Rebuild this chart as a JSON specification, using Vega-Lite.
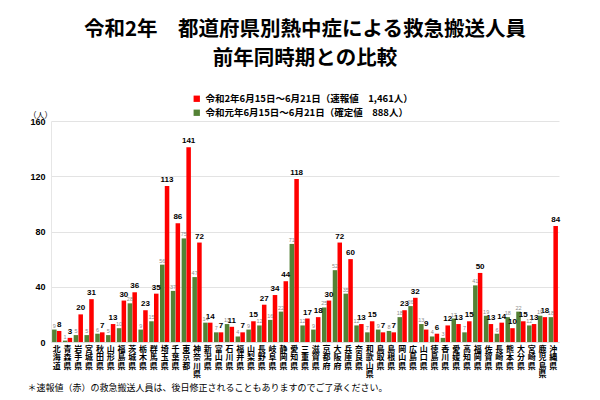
{
  "$schema": "https://vega.github.io/schema/vega-lite/v6.json",
  "width": 508,
  "height": 221,
  "autosize": {"type": "none"},
  "padding": {"left": 51, "top": 121, "right": 41, "bottom": 58},
  "background": "white",
  "title": {
    "text": ["令和2年　都道府県別熱中症による救急搬送人員", "前年同時期との比較"],
    "font": "Noto Sans CJK JP",
    "fontSize": 20.5,
    "fontWeight": "bold",
    "color": "#000000",
    "lineHeight": 29,
    "anchor": "middle",
    "offset": 20,
    "dy": -5
  },
  "config": {
    "view": {"stroke": null},
    "font": "Noto Sans CJK JP"
  },
  "data": {
    "values": [
      {"pref": "北海道", "r2": 8, "r1": 9},
      {"pref": "青森県", "r2": 3, "r1": 1},
      {"pref": "岩手県", "r2": 20, "r1": 5},
      {"pref": "宮城県", "r2": 31, "r1": 5},
      {"pref": "秋田県", "r2": 7, "r1": 6},
      {"pref": "山形県", "r2": 13, "r1": 5},
      {"pref": "福島県", "r2": 30, "r1": 10},
      {"pref": "茨城県", "r2": 36, "r1": 28},
      {"pref": "栃木県", "r2": 23, "r1": 9},
      {"pref": "群馬県", "r2": 35, "r1": 15},
      {"pref": "埼玉県", "r2": 113, "r1": 56},
      {"pref": "千葉県", "r2": 86, "r1": 37},
      {"pref": "東京都", "r2": 141, "r1": 75},
      {"pref": "神奈川県", "r2": 72, "r1": 47},
      {"pref": "新潟県", "r2": 14, "r1": 14},
      {"pref": "富山県", "r2": 7, "r1": 7},
      {"pref": "石川県", "r2": 11, "r1": 13},
      {"pref": "福井県", "r2": 7, "r1": 4},
      {"pref": "山梨県", "r2": 15, "r1": 9},
      {"pref": "長野県", "r2": 27, "r1": 12},
      {"pref": "岐阜県", "r2": 34, "r1": 16},
      {"pref": "静岡県", "r2": 44, "r1": 22},
      {"pref": "愛知県", "r2": 118, "r1": 71},
      {"pref": "三重県", "r2": 17, "r1": 12},
      {"pref": "滋賀県", "r2": 18, "r1": 9},
      {"pref": "京都府", "r2": 30, "r1": 25},
      {"pref": "大阪府", "r2": 72, "r1": 52},
      {"pref": "兵庫県", "r2": 60, "r1": 35},
      {"pref": "奈良県", "r2": 13, "r1": 12},
      {"pref": "和歌山県", "r2": 15, "r1": 7},
      {"pref": "鳥取県", "r2": 7, "r1": 9},
      {"pref": "島根県", "r2": 7, "r1": 8},
      {"pref": "岡山県", "r2": 23, "r1": 18},
      {"pref": "広島県", "r2": 32, "r1": 26},
      {"pref": "山口県", "r2": 9, "r1": 13},
      {"pref": "徳島県", "r2": 6, "r1": 4},
      {"pref": "香川県", "r2": 12, "r1": 3},
      {"pref": "愛媛県", "r2": 13, "r1": 17},
      {"pref": "高知県", "r2": 15, "r1": 7},
      {"pref": "福岡県", "r2": 50, "r1": 41},
      {"pref": "佐賀県", "r2": 13, "r1": 19},
      {"pref": "長崎県", "r2": 14, "r1": 6},
      {"pref": "熊本県", "r2": 10, "r1": 18},
      {"pref": "大分県", "r2": 15, "r1": 22},
      {"pref": "宮崎県", "r2": 13, "r1": 12},
      {"pref": "鹿児島県", "r2": 18, "r1": 19},
      {"pref": "沖縄県", "r2": 84, "r1": 18}
    ]
  },
  "transform": [{"fold": ["r2", "r1"], "as": ["series", "value"]}],
  "encoding": {
    "x": {
      "field": "pref",
      "type": "nominal",
      "sort": null,
      "scale": {"paddingInner": 0.14, "paddingOuter": 0.1},
      "axis": {
        "title": "＊速報値（赤）の救急搬送人員は、後日修正されることもありますのでご了承ください。",
        "titleFont": "Noto Sans CJK JP",
        "titleFontSize": 9,
        "titleFontWeight": "normal",
        "titleColor": "#000000",
        "titleAnchor": "start",
        "titleAlign": "left",
        "titleBaseline": "middle",
        "titleX": -24,
        "titleY": 45,
        "labelAngle": 0,
        "labelExpr": "split(datum.label, '')",
        "labelFont": "Noto Sans CJK JP",
        "labelFontSize": 8,
        "labelFontWeight": "bold",
        "labelLineHeight": 8.5,
        "labelColor": "#000000",
        "labelBaseline": "top",
        "labelPadding": 3,
        "labelOverlap": false,
        "ticks": false,
        "domainColor": "#D9D9D9"
      }
    }
  },
  "layer": [
    {
      "mark": {"type": "bar"},
      "encoding": {
        "xOffset": {"field": "series", "scale": {"domain": ["r1", "r2"], "paddingInner": 0.05}},
        "y": {
          "field": "value",
          "type": "quantitative",
          "scale": {"domain": [0, 160]},
          "axis": {
            "values": [0, 20, 40, 60, 80, 100, 120, 140, 160],
            "title": "（人）",
            "titleAngle": 0,
            "titleFont": "Noto Sans CJK JP",
            "titleFontSize": 8,
            "titleFontWeight": "normal",
            "titleColor": "#000000",
            "titleAlign": "center",
            "titleBaseline": "middle",
            "titleX": -11,
            "titleY": -6,
            "labelFont": "Liberation Sans",
            "labelFontSize": 9,
            "labelFontWeight": "bold",
            "labelColor": "#000000",
            "labelPadding": 6,
            "ticks": false,
            "domainColor": "#E6E6E6",
            "gridColor": "#E3E3E3"
          }
        },
        "color": {
          "field": "series",
          "scale": {"domain": ["r2", "r1"], "range": ["#FF0000", "#548235"]},
          "legend": {
            "title": null,
            "orient": "none",
            "legendX": 141,
            "legendY": -27,
            "direction": "vertical",
            "symbolType": "square",
            "symbolSize": 40,
            "symbolStrokeWidth": 0,
            "labelFont": "Noto Sans CJK JP",
            "labelFontSize": 9.5,
            "labelFontWeight": "bold",
            "labelColor": "#000000",
            "labelLimit": 400,
            "rowPadding": 3,
            "labelExpr": "datum.value == 'r2' ? '令和2年6月15日～6月21日（速報値　1,461人）' : '令和元年6月15日～6月21日（確定値　888人）'"
          }
        }
      }
    },
    {
      "transform": [{"filter": "datum.series == 'r2'"}],
      "mark": {"type": "text", "dy": -6, "fontSize": 8, "fontWeight": "bold", "font": "Liberation Sans", "color": "#000000"},
      "encoding": {
        "xOffset": {"field": "series", "scale": {"domain": ["r1", "r2"], "paddingInner": 0.05}},
        "y": {"field": "value", "type": "quantitative"},
        "text": {"field": "value", "type": "quantitative"}
      }
    },
    {
      "transform": [{"filter": "datum.series == 'r1'"}],
      "mark": {"type": "text", "dy": -4, "fontSize": 5.5, "font": "Liberation Sans", "color": "#8C8C8C"},
      "encoding": {
        "xOffset": {"field": "series", "scale": {"domain": ["r1", "r2"], "paddingInner": 0.05}},
        "y": {"field": "value", "type": "quantitative"},
        "text": {"field": "value", "type": "quantitative"}
      }
    }
  ]
}
